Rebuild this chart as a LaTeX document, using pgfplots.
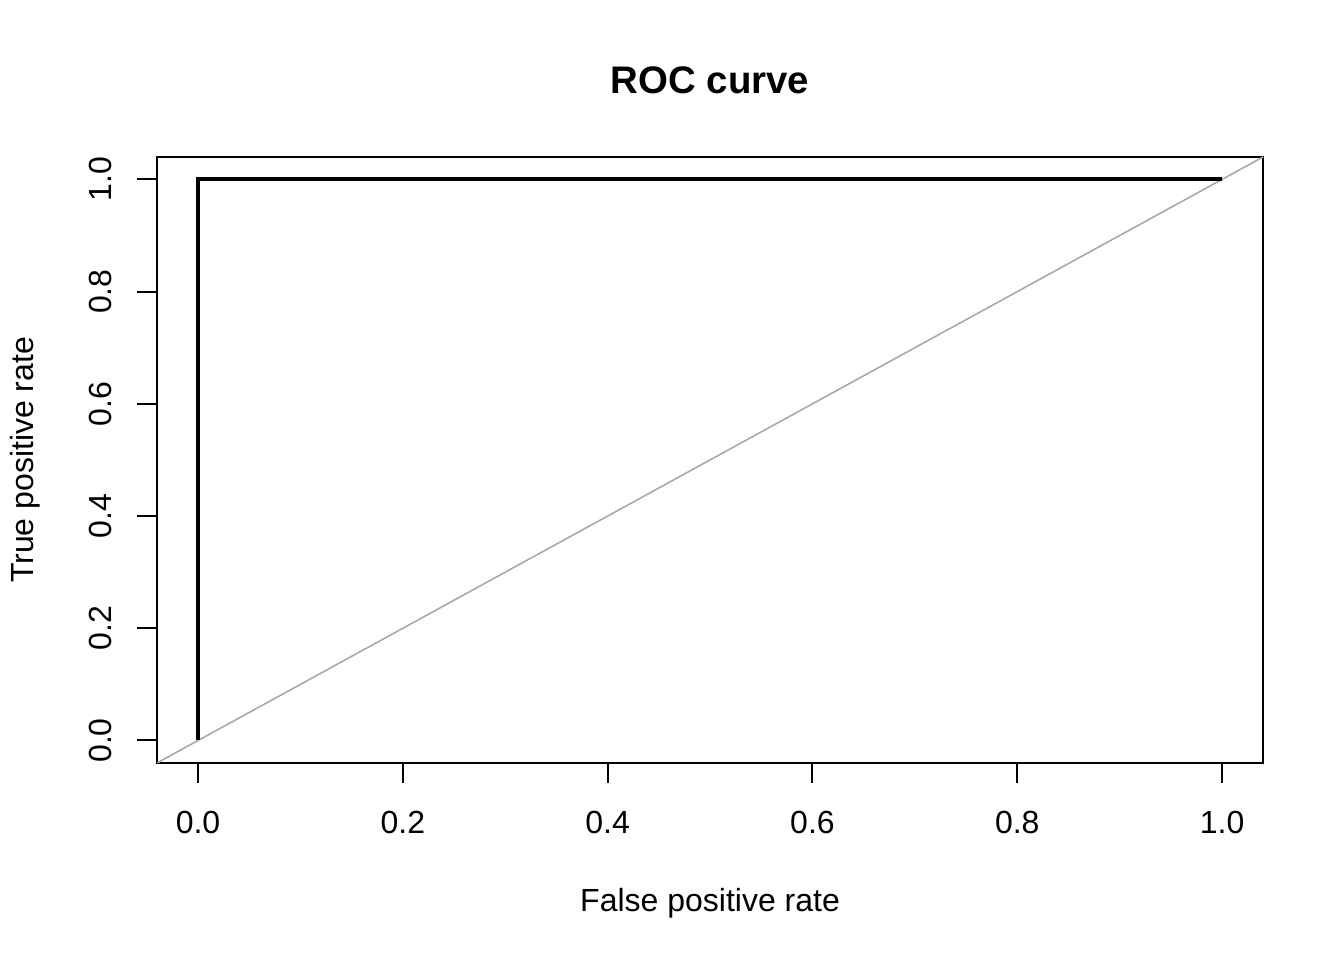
\documentclass[border=0pt]{standalone}
\usepackage{fontspec}
\setmainfont{Liberation Sans}
\usepackage{pgfplots}
\pgfplotsset{compat=1.18}
\definecolor{rgray}{RGB}{169,169,169}
\begin{document}
\begin{tikzpicture}
\path[use as bounding box] (0,0) rectangle (504pt,360pt);
\begin{axis}[
  at={(58.9pt,73.9pt)}, anchor=south west,
  scale only axis, width=414.75pt, height=227.25pt,
  xmin=-0.04, xmax=1.04, ymin=-0.04, ymax=1.04,
  axis line style={line width=0.75pt},
  xtick={0,0.2,0.4,0.6,0.8,1.0},
  ytick={0,0.2,0.4,0.6,0.8,1.0},
  xtick pos=bottom, ytick pos=left,
  tick align=outside, major tick length=7.5pt,
  tick style={line width=0.75pt, black},
  /pgf/number format/assume math mode=true,
  /pgf/number format/fixed, /pgf/number format/fixed zerofill,
  /pgf/number format/precision=1,
  ticklabel style={font=\fontsize{12}{14}\selectfont},
  xticklabel style={anchor=center, yshift=-15pt},
  yticklabel style={xshift=-13.9pt, rotate=90, anchor=center},
  xlabel={False positive rate}, ylabel={True positive rate},
  label style={font=\fontsize{12}{14}\selectfont},
  xlabel style={at={(axis description cs:0.5,-0.231)}, anchor=center},
  ylabel style={at={(axis description cs:-0.1193,0.5)}, anchor=center, rotate=0},
  title={ROC curve},
  title style={font=\fontsize{14.4}{16}\selectfont\bfseries, at={(axis description cs:0.5,1.1006)}, anchor=center},
  clip=true,
]
\addplot[rgray, line width=0.6pt] coordinates {(-0.04,-0.04) (1.04,1.04)};
\addplot[black, line width=1.5pt] coordinates {(0,0) (0,1) (1,1)};
\end{axis}
\end{tikzpicture}
\end{document}
